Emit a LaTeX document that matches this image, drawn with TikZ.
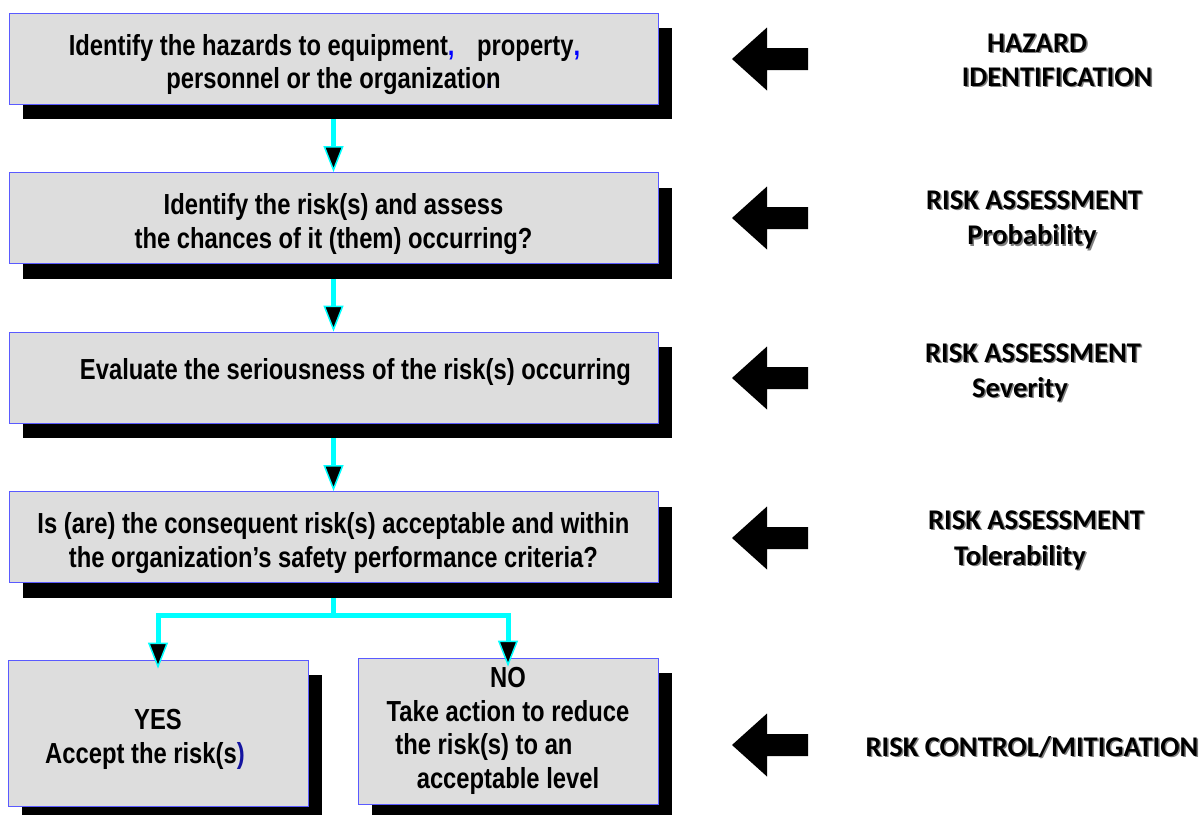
\documentclass[tikz,border=0pt]{standalone}
\usepackage{fontspec}
\usetikzlibrary{arrows.meta,shadows}
\newfontfamily\boxfont[FakeStretch=0.82]{Liberation Sans}
\newfontfamily\labfont{Carlito}
\definecolor{boxgray}{HTML}{DDDDDD}
\definecolor{boxblue}{RGB}{90,90,255}
\definecolor{linkcyan}{HTML}{00FFFF}
\definecolor{darkblue}{RGB}{20,20,160}
\definecolor{labshadow}{gray}{0.5}
\newcommand\tallstrut{\rule{0pt}{33pt}}
\begin{document}
\begin{tikzpicture}[x=1pt,y=-1pt,
  stepbox/.style={draw=boxblue,line width=0.9pt,fill=boxgray,
    minimum width=649pt,minimum height=91pt,inner sep=0pt,align=center,
    font=\boxfont\bfseries\fontsize{29}{33.5}\selectfont,
    drop shadow={shadow xshift=14pt,shadow yshift=-15pt,fill=black,opacity=1}},
  smallbox/.style={stepbox,minimum width=300pt,minimum height=146pt},
  link/.style={draw=linkcyan,line width=5pt,
    -{Triangle[length=26pt,width=20pt,fill=black,line width=1.5pt]}},
  linkline/.style={draw=linkcyan,line width=5pt},
  lab/.style={font=\labfont\bfseries\fontsize{28.5}{30}\selectfont,anchor=base,inner sep=0pt},
  labsh/.style={lab,text=labshadow},
  bigarrow/.style={fill=black}
]
\fill[white] (0,0) rectangle (1202,814);
\useasboundingbox (0,0) rectangle (1202,814);

% boxes
\node[stepbox] (b1) at (333.5,58.5)
  {\tallstrut Identify the hazards to equipment{\color{blue},}\hspace{16pt} property{\color{blue},}\rule{18pt}{0pt}\\
   personnel or the organizatio\rlap{\color{blue}.}n};
\node[stepbox] (b2) at (333.5,218)
  {\tallstrut Identify the risk(s) and assess\\the chances of it (them) occurring?};
\node[stepbox] (b3) at (333.5,377.5)
  {\raisebox{18pt}{\hspace*{44pt}Evaluate the seriousness of the risk(s) occurring}};
\node[stepbox] (b4) at (333.5,537)
  {\tallstrut Is (are) the consequent risk(s) acceptable and within\\
   the organization’s safety performance criteria?};
\node[smallbox] (yes) at (158,733)
  {\tallstrut YES\\Accept the risk(s{\color{darkblue})}\rule{26pt}{0pt}};
\node[smallbox] (no) at (508,731)
  {NO\\Take action to reduce\\the risk(s) to an\rule{48pt}{0pt}\\acceptable level};

% connectors
\draw[link] ([yshift=-15pt]b1.south) -- (b2.north);
\draw[link] ([yshift=-15pt]b2.south) -- (b3.north);
\draw[link] ([yshift=-15pt]b3.south) -- (b4.north);
\draw[linkline] ([yshift=-15pt]b4.south) -- ++(0,20) coordinate (split);
\draw[link] ([yshift=2.5pt]split) -| ([yshift=-9pt]yes.north);
\draw[link] ([yshift=2.5pt]split) -| ([yshift=-9pt]no.north);

% big left arrows
\foreach \c in {59,218,378,538,745}
  \fill[bigarrow] (732,\c) -- (767,\c-31.5) -- (767,\c-11) -- (808,\c-11)
    -- (808,\c+11) -- (767,\c+11) -- (767,\c+31.5) -- cycle;

% right labels (with soft text shadow)
\node[labsh] at (1038.5,53.5) {HAZARD};
\node[lab] (l1a) at (1037,52) {HAZARD};
\node[labsh] at (1058.5,87.5) {IDENTIFICATION};
\node[lab] (l1b) at (1057,86) {IDENTIFICATION};

\node[labsh] at (1035.5,210.5) {RISK ASSESSMENT};
\node[lab] (l2a) at (1034,209) {RISK ASSESSMENT};
\node[labsh] at (1033.5,246) {Probability};
\node[lab] (l2b) at (1032,244.5) {Probability};

\node[labsh] at (1034.5,363.5) {RISK ASSESSMENT};
\node[lab] (l3a) at (1033,362) {RISK ASSESSMENT};
\node[labsh] at (1021.5,398.5) {Severity};
\node[lab] (l3b) at (1020,397) {Severity};

\node[labsh] at (1037.5,530.5) {RISK ASSESSMENT};
\node[lab] (l4a) at (1036,529) {RISK ASSESSMENT};
\node[labsh] at (1021.5,566.5) {Tolerability};
\node[lab] (l4b) at (1020,565) {Tolerability};

\node[labsh] at (1033.5,757.5) {RISK CONTROL/MITIGATION};
\node[lab] (l5) at (1032,756) {RISK CONTROL/MITIGATION};
\end{tikzpicture}
\end{document}
